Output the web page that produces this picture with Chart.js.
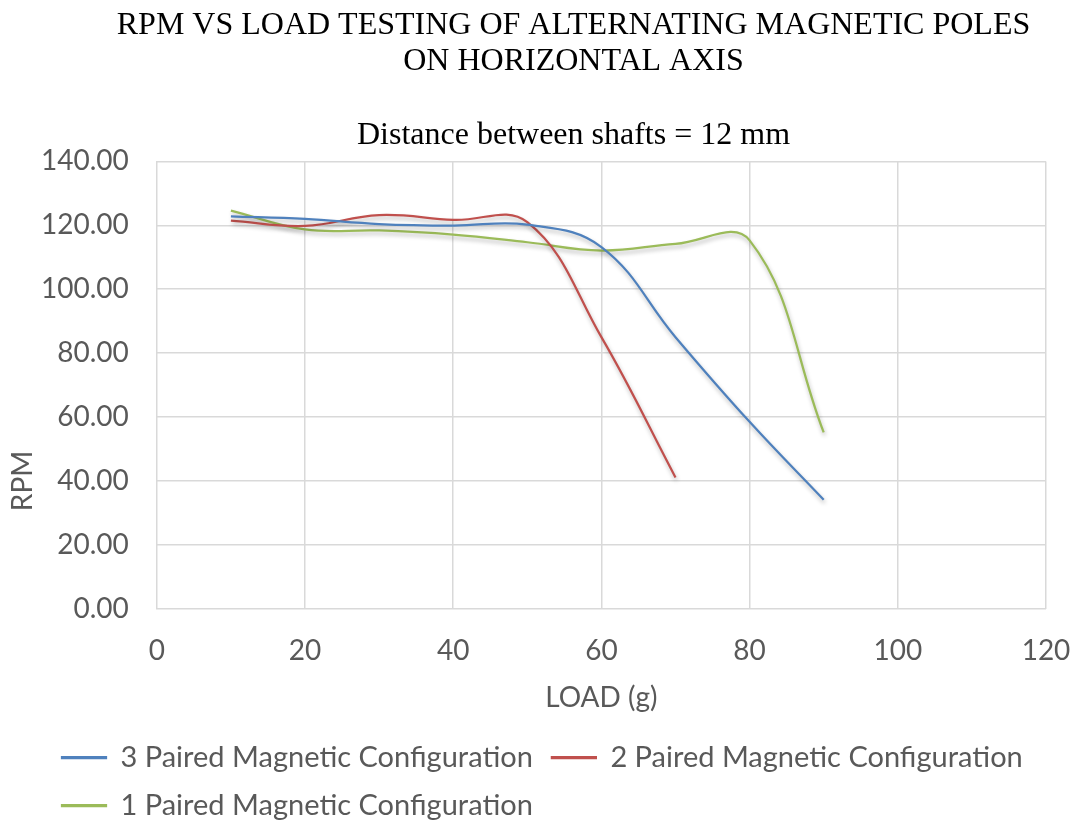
<!DOCTYPE html>
<html>
<head>
<meta charset="utf-8">
<script src="https://cdn.jsdelivr.net/npm/chart.js@4"></script>
<style>
  html, body { margin: 0; padding: 0; background: #fff; }
  #wrap { width: 1076px; height: 825px; }
</style>
</head>
<body>
<div id="wrap"><canvas id="rpmChart" width="1076" height="825"></canvas></div>
<script>
// load (g) and measured RPM per configuration
const loads = [10, 20, 30, 40, 50, 60, 70, 80, 90];
const rpm3Paired = [122.8, 122.0, 120.4, 119.9, 120.2, 113.2, 85.0, 58.5, 34.1];
const rpm2Paired = [121.5, 119.8, 123.2, 121.7, 121.0, 85.0, 41.1];
const rpm1Paired = [124.6, 118.7, 118.4, 117.1, 114.7, 112.1, 114.2, 115.3, 55.2];

const seriesNames = [
  "3 Paired Magnetic Configuration",
  "2 Paired Magnetic Configuration",
  "1 Paired Magnetic Configuration"
];
const titleLines = ["RPM VS LOAD TESTING OF ALTERNATING MAGNETIC POLES", "ON HORIZONTAL AXIS"];
const subtitleText = "Distance between shafts = 12 mm";
const xTitle = "LOAD (g)";
const yTitle = "RPM";

const sansFont = "Lato";
const serifFont = "Liberation Serif";
const grey = "#595959";

function toPoints(values) {
  return values.map((v, i) => ({ x: loads[i], y: v }));
}

function lineSet(label, values, color) {
  return {
    label,
    data: toPoints(values),
    borderColor: color,
    backgroundColor: color,
    borderWidth: 2.25,
    pointRadius: 0,
    tension: 0.4,
    fill: false
  };
}

// soft drop shadow under the lines, like the office chart
const lineShadow = {
  id: "lineShadow",
  beforeDatasetsDraw(chart) {
    const ctx = chart.ctx;
    ctx.save();
    ctx.shadowColor = "rgba(0,0,0,0.28)";
    ctx.shadowBlur = 4;
    ctx.shadowOffsetX = 1;
    ctx.shadowOffsetY = 3;
  },
  afterDatasetsDraw(chart) {
    chart.ctx.restore();
  }
};

// nudge titles right, legend rows to the left edge; y title sits low
const sideBits = {
  id: "sideBits",
  afterLayout(chart) {
    chart.boxes
      .filter(b => b.position === "top" && !(b instanceof Chart.Scale))
      .forEach(b => { b.left = 101; });
    chart.legend.left = 43;
    chart.legend.top += 5;
  },
  afterDraw(chart) {
    const ctx = chart.ctx;
    const y = chart.scales.y;
    ctx.save();
    ctx.translate(23, y.getPixelForValue(40));
    ctx.rotate(-Math.PI / 2);
    ctx.font = `28px ${sansFont}`;
    ctx.fillStyle = grey;
    ctx.textAlign = "center";
    ctx.textBaseline = "middle";
    ctx.fillText(yTitle, 0, 0);
    ctx.restore();
  }
};

new Chart(document.getElementById("rpmChart"), {
  type: "line",
  data: {
    datasets: [
      lineSet(seriesNames[0], rpm3Paired, "#4F81BD"),
      lineSet(seriesNames[1], rpm2Paired, "#C0504D"),
      lineSet(seriesNames[2], rpm1Paired, "#9BBB59")
    ]
  },
  options: {
    responsive: false,
    animation: false,
    layout: { padding: { left: 13, right: 30, top: 4, bottom: 0 } },
    plugins: {
      title: {
        display: true,
        text: titleLines,
        color: "#000",
        font: { family: serifFont, size: 32, weight: "normal", lineHeight: 1.125 },
        padding: { top: 4, bottom: 36 }
      },
      subtitle: {
        display: true,
        text: subtitleText,
        color: "#000",
        font: { family: serifFont, size: 32, weight: "normal" },
        padding: { top: 0, bottom: 7 }
      },
      legend: {
        position: "bottom",
        align: "start",
        labels: {
          color: grey,
          font: { family: sansFont, size: 29 },
          boxWidth: 44,
          boxHeight: 1,
          padding: 19
        }
      },
      tooltip: { enabled: false }
    },
    scales: {
      x: {
        type: "linear",
        min: 0,
        max: 120,
        afterFit: (scale) => { scale.paddingRight = 0; },
        ticks: {
          stepSize: 20,
          color: grey,
          font: { family: sansFont, size: 28 },
          padding: 25
        },
        grid: { color: "#D9D9D9", lineWidth: 1.5, drawTicks: false },
        border: { color: "#D9D9D9" },
        title: {
          display: true,
          text: xTitle,
          color: grey,
          font: { family: sansFont, size: 28 },
          padding: { top: -11, bottom: 4 }
        }
      },
      y: {
        min: 0,
        max: 140,
        ticks: {
          stepSize: 20,
          color: grey,
          font: { family: sansFont, size: 28 },
          padding: 28,
          callback: (v) => Number(v).toFixed(2)
        },
        grid: { color: "#D9D9D9", lineWidth: 1.5, drawTicks: false },
        border: { color: "#D9D9D9" }
      }
    }
  },
  plugins: [lineShadow, sideBits]
});
</script>
</body>
</html>
